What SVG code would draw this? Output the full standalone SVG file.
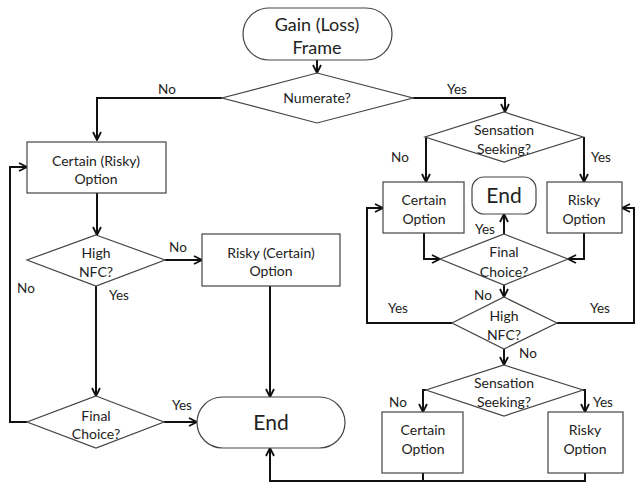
<svg xmlns="http://www.w3.org/2000/svg" width="635" height="482" viewBox="0 0 635 482">
<style>
.sh{fill:#fff;stroke:#444;stroke-width:1.2}
.t{font-family:Lato,"Open Sans","Liberation Sans",sans-serif;font-size:14px;fill:#222;text-anchor:middle}
.big{font-size:18px}
.end{font-size:21px}
.lb{font-family:Lato,"Open Sans","Liberation Sans",sans-serif;font-size:13.5px;fill:#222;text-anchor:middle}
.c{fill:none;stroke:#111;stroke-width:2}
</style>
<defs>
<marker id="ah" viewBox="0 0 10 10" refX="9" refY="5" markerWidth="5" markerHeight="5" orient="auto" markerUnits="strokeWidth">
<path d="M1,1 L9,5 L1,9" fill="none" stroke="#111" stroke-width="1.8"/>
</marker>
</defs>
<rect width="635" height="482" fill="#fff"/>

<g id="connectors">
<path class="c" d="M317,60 V73" marker-end="url(#ah)"/>
<path class="c" d="M222,98 H97 V140" marker-end="url(#ah)"/>
<path class="c" d="M413,98 H505 V112" marker-end="url(#ah)"/>
<path class="c" d="M426,137 V182" marker-end="url(#ah)"/>
<path class="c" d="M584,137 V182" marker-end="url(#ah)"/>
<path class="c" d="M424,233 V259 H440" marker-end="url(#ah)"/>
<path class="c" d="M584,233 V259 H568" marker-end="url(#ah)"/>
<path class="c" d="M504,234 V214" marker-end="url(#ah)"/>
<path class="c" d="M504,285 V297" marker-end="url(#ah)"/>
<path class="c" d="M452,323 H367 V208 H383" marker-end="url(#ah)"/>
<path class="c" d="M557,323 H634 V208 H622" marker-end="url(#ah)"/>
<path class="c" d="M504,349 V365" marker-end="url(#ah)"/>
<path class="c" d="M426,390 H423 V412" marker-end="url(#ah)"/>
<path class="c" d="M583,390 H585 V412" marker-end="url(#ah)"/>
<path class="c" d="M423,473 V481 M585,473 V481 H270 V448" marker-end="url(#ah)"/>
<path class="c" d="M97,193 V235" marker-end="url(#ah)"/>
<path class="c" d="M165,260 H202" marker-end="url(#ah)"/>
<path class="c" d="M270,286 V397" marker-end="url(#ah)"/>
<path class="c" d="M96,286 V396" marker-end="url(#ah)"/>
<path class="c" d="M164,422 H197" marker-end="url(#ah)"/>
<path class="c" d="M27,422 H10 V167 H27" marker-end="url(#ah)"/>
</g>

<g id="labels">
<text class="lb" x="167" y="94">No</text>
<text class="lb" x="457" y="94">Yes</text>
<text class="lb" x="400" y="162">No</text>
<text class="lb" x="601" y="162">Yes</text>
<text class="lb" x="485" y="234">Yes</text>
<text class="lb" x="483" y="300">No</text>
<text class="lb" x="398" y="313">Yes</text>
<text class="lb" x="600" y="313">Yes</text>
<text class="lb" x="528" y="358">No</text>
<text class="lb" x="398" y="407">No</text>
<text class="lb" x="603" y="407">Yes</text>
<text class="lb" x="178" y="252">No</text>
<text class="lb" x="119" y="300">Yes</text>
<text class="lb" x="182" y="410">Yes</text>
<text class="lb" x="26" y="293">No</text>
</g>

<g id="gain-frame">
<rect class="sh" x="243" y="8" width="149" height="52" rx="26"/>
<text class="t big" x="317" y="31">Gain (Loss)</text>
<text class="t big" x="317" y="54">Frame</text>
</g>
<g id="numerate">
<polygon class="sh" points="317,73 413,98 317,123 222,98"/>
<text class="t" x="317" y="103">Numerate?</text>
</g>
<g id="sensation1">
<polygon class="sh" points="504,112 583,137 504,162 425,137"/>
<text class="t" x="504" y="135">Sensation</text>
<text class="t" x="504" y="154">Seeking?</text>
</g>
<g id="certain1">
<rect class="sh" x="383" y="182" width="81" height="51"/>
<text class="t" x="424" y="205">Certain</text>
<text class="t" x="424" y="224">Option</text>
</g>
<g id="end-small">
<rect class="sh" x="472" y="177" width="64" height="37" rx="12"/>
<text class="t end" x="504" y="203">End</text>
</g>
<g id="risky1">
<rect class="sh" x="547" y="182" width="75" height="51"/>
<text class="t" x="584" y="205">Risky</text>
<text class="t" x="584" y="224">Option</text>
</g>
<g id="final-right">
<polygon class="sh" points="504,234 568,259 504,285 440,259"/>
<text class="t" x="504" y="257">Final</text>
<text class="t" x="504" y="277">Choice?</text>
</g>
<g id="nfc-right">
<polygon class="sh" points="504,297 557,323 504,349 452,323"/>
<text class="t" x="504" y="321">High</text>
<text class="t" x="504" y="340">NFC?</text>
</g>
<g id="sensation2">
<polygon class="sh" points="504,365 583,390 504,416 426,390"/>
<text class="t" x="504" y="388">Sensation</text>
<text class="t" x="504" y="407">Seeking?</text>
</g>
<g id="certain2">
<rect class="sh" x="382" y="412" width="81" height="61"/>
<text class="t" x="423" y="435">Certain</text>
<text class="t" x="423" y="454">Option</text>
</g>
<g id="risky2">
<rect class="sh" x="548" y="412" width="75" height="61"/>
<text class="t" x="585" y="435">Risky</text>
<text class="t" x="585" y="454">Option</text>
</g>
<g id="certain-risky">
<rect class="sh" x="27" y="142" width="139" height="51"/>
<text class="t" x="96" y="166">Certain (Risky)</text>
<text class="t" x="96" y="184">Option</text>
</g>
<g id="nfc-left">
<polygon class="sh" points="96,235 165,260 96,286 27,260"/>
<text class="t" x="96" y="258">High</text>
<text class="t" x="96" y="277">NFC?</text>
</g>
<g id="risky-certain">
<rect class="sh" x="202" y="234" width="138" height="52"/>
<text class="t" x="271" y="258">Risky (Certain)</text>
<text class="t" x="271" y="276">Option</text>
</g>
<g id="final-left">
<polygon class="sh" points="96,396 164,422 96,448 27,422"/>
<text class="t" x="96" y="421">Final</text>
<text class="t" x="96" y="439">Choice?</text>
</g>
<g id="end-big">
<rect class="sh" x="197" y="397" width="148" height="51" rx="25.5"/>
<text class="t end" x="271" y="430">End</text>
</g>
</svg>
